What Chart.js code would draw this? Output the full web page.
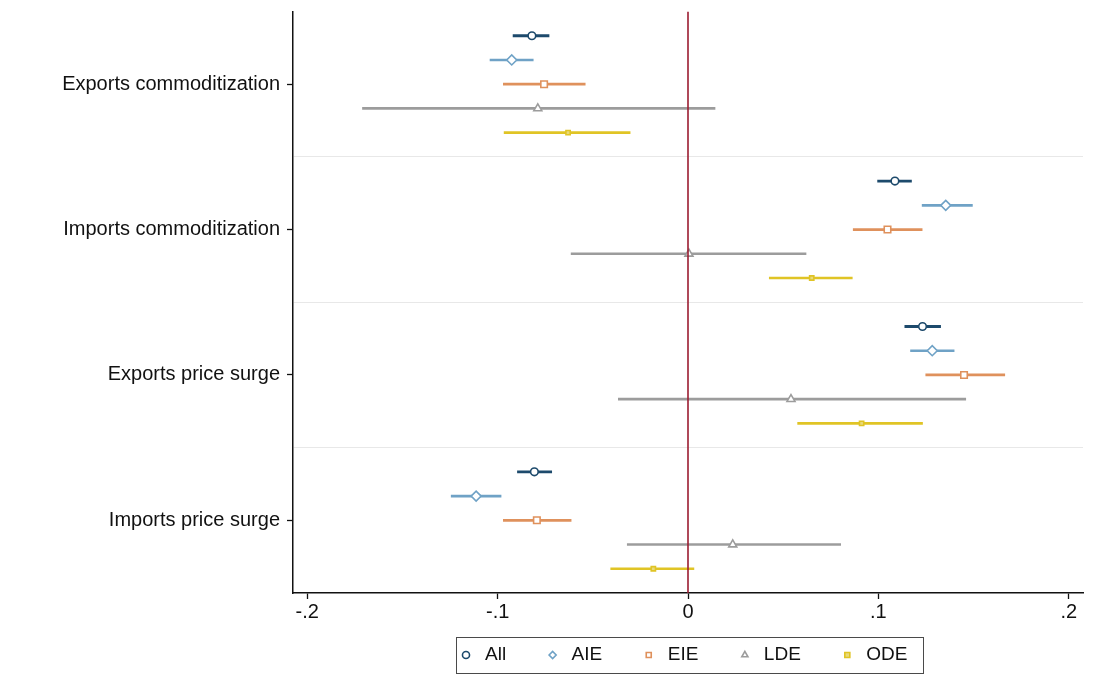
<!DOCTYPE html>
<html>
<head>
<meta charset="utf-8">
<title>Coefficient plot</title>
<script src="https://cdn.jsdelivr.net/npm/chart.js@4.4.1/dist/chart.umd.min.js"></script>
<style>
  html, body { margin: 0; padding: 0; background: #fff; }
  canvas { display: block; }
</style>
</head>
<body>
<canvas id="chart" width="1096" height="700"></canvas>
<script>
const categories = ["Exports commoditization", "Imports commoditization", "Exports price surge", "Imports price surge"];
const seriesNames = ["All", "AIE", "EIE", "LDE", "ODE"];

// point estimates and confidence bounds, one value per category
const coefAll = [-0.082, 0.1087, 0.1232, -0.0807];
const loAll   = [-0.0919, 0.0996, 0.1139, -0.0896];
const hiAll   = [-0.073, 0.1174, 0.1327, -0.0716];

const coefAIE = [-0.0926, 0.1354, 0.1283, -0.1113];
const loAIE   = [-0.104, 0.123, 0.1169, -0.1244];
const hiAIE   = [-0.0813, 0.1494, 0.1398, -0.0982];

const coefEIE = [-0.0756, 0.1048, 0.145, -0.0794];
const loEIE   = [-0.097, 0.0868, 0.1249, -0.097];
const hiEIE   = [-0.054, 0.123, 0.1664, -0.0614];

const coefLDE = [-0.0789, 0.0005, 0.0541, 0.0235];
const loLDE   = [-0.171, -0.0614, -0.0366, -0.0319];
const hiLDE   = [0.0142, 0.062, 0.1459, 0.0802];

const coefODE = [-0.063, 0.065, 0.0912, -0.0182];
const loODE   = [-0.0966, 0.0427, 0.0576, -0.0406];
const hiODE   = [-0.0304, 0.0863, 0.1232, 0.0031];

const xTicks = [-0.2, -0.1, 0, 0.1, 0.2];
const xTickLabels = ["-.2", "-.1", "0", ".1", ".2"];
const refValue = 0;

const coefs = [coefAll, coefAIE, coefEIE, coefLDE, coefODE];
const lows = [loAll, loAIE, loEIE, loLDE, loODE];
const highs = [hiAll, hiAIE, hiEIE, hiLDE, hiODE];

const colors = ["#1d4a6c", "#6fa2c6", "#df915c", "#9c9c9c", "#e0c425"];
const markerStyles = ["circle", "rectRot", "rect", "triangle", "rect"];
const markerRadius = [3.8, 5, 4.6, 4.6, 3];
const markerFill = ["#fff", "#fff", "#fff", "#fff", "#e9da7a"];
const ciWidth = [2.2, 2, 2, 2, 2];

const slot = 6; // 5 rows + 1 gap per category
const rowPos = (c, s) => c * slot + s + 1;
const yMax = categories.length * slot;

const font = "'Liberation Sans', Arial, sans-serif";
const legendPad = 37;

const datasets = [];

// vertical reference line at zero
datasets.push({
    type: "line",
    label: "ref",
    data: [{ x: refValue, y: 0 }, { x: refValue, y: yMax }],
    borderColor: "#9b1c30",
    borderWidth: 1.6,
    pointRadius: 0,
});

seriesNames.forEach((name, s) => {
    datasets.push({
        type: "scatter",
        label: name,
        data: coefs[s].map((v, c) => ({ x: v, y: rowPos(c, s) })),
        pointStyle: markerStyles[s],
        pointRadius: markerRadius[s],
        pointBackgroundColor: markerFill[s],
        pointBorderColor: colors[s],
        pointBorderWidth: 1.6,
        backgroundColor: markerFill[s],
        borderColor: colors[s],
    });
});

seriesNames.forEach((name, s) => {
    datasets.push({
        type: "bar",
        label: name + " CI",
        indexAxis: "y",
        grouped: false,
        data: lows[s].map((lo, c) => ({ x: [lo, highs[s][c]], y: rowPos(c, s) })),
        backgroundColor: colors[s],
        borderWidth: 0,
        barThickness: ciWidth[s],
    });
});

// pull the legend up under the tick labels and frame it, like Stata draws it
const legendBoxPlugin = {
    id: "legendBox",
    afterLayout(chart) {
        const lg = chart.legend;
        if (!lg) return;
        lg.top -= 19.5;
        lg.bottom -= 19.5;
        lg.left -= 6;
        lg.right -= 6;
    },
    afterDraw(chart) {
        const boxes = chart.legend && chart.legend.legendHitBoxes;
        if (!boxes || !boxes.length) return;
        const first = boxes[0];
        const last = boxes[boxes.length - 1];
        const ctx = chart.ctx;
        const left = first.left - 1;
        const right = last.left + last.width + 15;
        const top = first.top - 8.5;
        const height = first.height + 17;
        ctx.save();
        ctx.strokeStyle = "#4a4a4a";
        ctx.lineWidth = 1;
        ctx.strokeRect(Math.round(left) + 0.5, Math.round(top) + 0.5, Math.round(right - left), Math.round(height));
        ctx.restore();
    },
};

const config = {
    type: "bar",
    data: { datasets },
    options: {
        responsive: false,
        animation: false,
        events: [],
        layout: {
            padding: { top: 11.5, right: 13, bottom: 6, left: 0 },
        },
        scales: {
            x: {
                type: "linear",
                min: -0.2075,
                max: 0.2075,
                offset: false,
                afterBuildTicks(scale) {
                    scale.ticks = xTicks.map((v) => ({ value: v }));
                },
                afterFit(scale) {
                    scale.height = 35;
                    scale.paddingLeft = 0;
                    scale.paddingRight = 0;
                },
                ticks: {
                    autoSkip: false,
                    maxRotation: 0,
                    padding: 1,
                    color: "#111",
                    font: { family: font, size: 20 },
                    callback: (v) => {
                        const i = xTicks.findIndex((t) => Math.abs(t - v) < 1e-9);
                        return i >= 0 ? xTickLabels[i] : "";
                    },
                },
                grid: {
                    offset: false,
                    drawOnChartArea: false,
                    drawTicks: true,
                    tickLength: 6,
                    tickColor: "#111",
                    tickWidth: 1.3,
                },
                border: { display: true, color: "#111", width: 1.5 },
            },
            y: {
                type: "linear",
                min: 0,
                max: yMax,
                reverse: true,
                offset: false,
                afterBuildTicks(scale) {
                    const t = [];
                    for (let v = slot / 2; v < yMax; v += slot / 2) t.push({ value: v });
                    scale.ticks = t;
                },
                afterFit(scale) {
                    scale.width = 293;
                    scale.paddingTop = 0;
                    scale.paddingBottom = 0;
                },
                ticks: {
                    autoSkip: false,
                    padding: 7,
                    color: "#111",
                    font: { family: font, size: 20 },
                    callback: (v) => (v % slot === slot / 2 ? categories[(v - slot / 2) / slot] : ""),
                },
                grid: {
                    offset: false,
                    drawTicks: true,
                    tickLength: 6,
                    lineWidth: 1,
                    color: (ctx) => (ctx.tick && ctx.tick.value % slot === 0 ? "#e8e8e8" : "rgba(0,0,0,0)"),
                    tickColor: (ctx) => (ctx.tick && ctx.tick.value % slot === slot / 2 ? "#111" : "rgba(0,0,0,0)"),
                    tickWidth: 1.3,
                },
                border: { display: true, color: "#111", width: 1.5 },
            },
        },
        plugins: {
            tooltip: { enabled: false },
            title: { display: false },
            legend: {
                display: true,
                position: "bottom",
                fullSize: false,
                labels: {
                    usePointStyle: true,
                    boxHeight: 5,
                    boxWidth: 19,
                    padding: legendPad,
                    color: "#111",
                    font: { family: font, size: 19 },
                    filter: (item, data) => data.datasets[item.datasetIndex].type === "scatter",
                },
            },
        },
    },
    plugins: [legendBoxPlugin],
};

new Chart(document.getElementById("chart").getContext("2d"), config);
</script>
</body>
</html>
